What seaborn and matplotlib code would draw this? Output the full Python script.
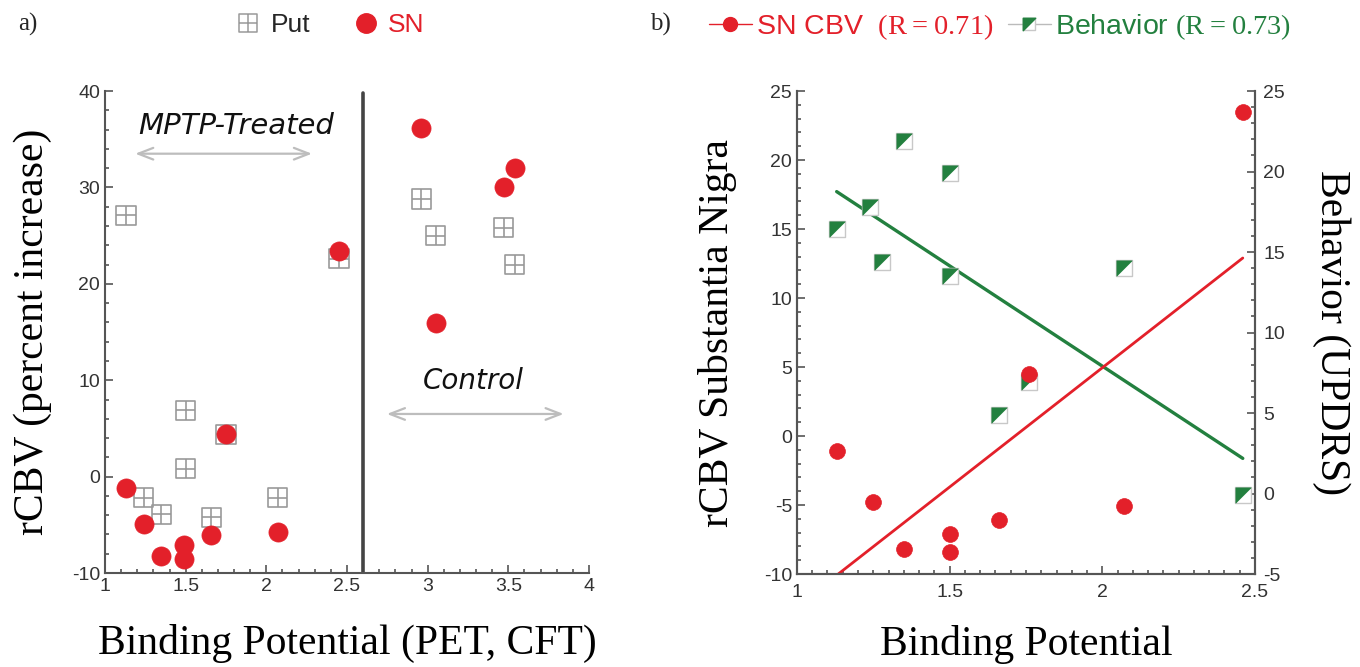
import matplotlib
matplotlib.use("Agg")
import matplotlib.pyplot as plt
from matplotlib.path import Path
from matplotlib.lines import Line2D
from matplotlib.ticker import MultipleLocator
from matplotlib.legend_handler import HandlerTuple
import seaborn as sns

# ---- panel a: rCBV vs binding potential ----
put_bp = [1.13, 2.45, 2.96, 3.05, 3.47, 3.54, 1.50, 1.75, 1.50, 1.24, 1.35, 1.66, 2.07]
put_rcbv = [27.1, 22.6, 28.8, 25.0, 25.8, 22.0, 6.9, 4.4, 0.8, -2.2, -3.9, -4.2, -2.2]
sn_bp = [2.96, 3.54, 3.47, 3.05, 2.45, 1.75, 1.13, 1.24, 1.35, 1.49, 1.49, 1.66, 2.07]
sn_rcbv = [36.2, 32.0, 30.0, 15.9, 23.4, 4.4, -1.2, -4.9, -8.2, -7.1, -8.5, -6.1, -5.7]
group_split = 2.6

# ---- panel b: MPTP animals only ----
snb_bp = [1.13, 1.25, 1.35, 1.50, 1.50, 1.66, 1.76, 2.07, 2.46]
snb_rcbv = [-1.1, -4.8, -8.2, -7.1, -8.4, -6.1, 4.5, -5.1, 23.45]
beh_bp = [1.13, 1.24, 1.28, 1.35, 1.50, 1.50, 1.66, 1.76, 2.07, 2.46]
beh_updrs = [16.4, 17.8, 14.4, 21.9, 19.9, 13.5, 4.9, 6.9, 14.0, -0.1]

RED = "#e3202a"
GREEN = "#23803f"
GRAY = "#9a9a9a"
SERIF = "Liberation Serif"
SANS = "Liberation Sans"

sns.set_theme(style="ticks")
plt.rcParams["font.family"] = [SANS, "DejaVu Sans"]
plt.rcParams["mathtext.fontset"] = "custom"
plt.rcParams["mathtext.rm"] = SERIF
plt.rcParams["axes.unicode_minus"] = False

# custom markers: boxed cross, and a diagonally split square
M, L, C = Path.MOVETO, Path.LINETO, Path.CLOSEPOLY
box_cross = Path([(-1, -1), (1, -1), (1, 1), (-1, 1), (-1, -1), (0, -1), (0, 1), (-1, 0), (1, 0)],
                 [M, L, L, L, C, M, L, M, L])
box = Path([(-1, -1), (1, -1), (1, 1), (-1, 1), (-1, -1)], [M, L, L, L, C])
tri_ul = Path([(-1, 1), (1, 1), (-1, -1), (-1, 1)], [M, L, L, C])

fig = plt.figure(figsize=(13.6, 6.67), dpi=100)
axa = fig.add_axes([0.0772, 0.1409, 0.3559, 0.7226])
axb = fig.add_axes([0.5860, 0.1394, 0.3368, 0.7241])
ax2 = axb.twinx()


def style_axis(ax, sides):
    for s in ["top", "right", "left", "bottom"]:
        ax.spines[s].set_visible(s in sides)
        ax.spines[s].set_color("#555555")
        ax.spines[s].set_linewidth(1.5)
    ax.tick_params(which="both", direction="in", colors="#555555", labelcolor="#333333",
                   labelsize=14, width=1.2)
    ax.tick_params(which="major", length=6)
    ax.tick_params(which="minor", length=3)
    for lab in ax.get_xticklabels() + ax.get_yticklabels():
        lab.set_fontfamily(SANS)


# ---------- panel a ----------
sns.scatterplot(x=put_bp, y=put_rcbv, ax=axa, marker=box_cross, s=190,
                facecolor="none", edgecolor=GRAY, linewidth=1.2, zorder=3)
sns.scatterplot(x=sn_bp, y=sn_rcbv, ax=axa, marker="o", s=190,
                color=RED, edgecolor=RED, linewidth=0.5, zorder=4)
axa.axvline(group_split, ymax=0.995, color="#444444", lw=2.6, zorder=2)
axa.set_xlim(1, 4)
axa.set_ylim(-10, 40)
axa.set_xticks([1, 1.5, 2, 2.5, 3, 3.5, 4])
axa.set_xticklabels(["1", "1.5", "2", "2.5", "3", "3.5", "4"])
axa.set_yticks([-10, 0, 10, 20, 30, 40])
axa.xaxis.set_minor_locator(MultipleLocator(0.1))
axa.yaxis.set_minor_locator(MultipleLocator(2))
style_axis(axa, ["left", "bottom"])

axa.set_xlabel("Binding Potential (PET, CFT)", fontfamily=SERIF, fontsize=30, color="black")
axa.set_ylabel("rCBV (percent increase)", fontfamily=SERIF, fontsize=30, color="black")
axa.xaxis.set_label_coords(0.5, -0.105)
axa.yaxis.set_label_coords(-0.11, 0.5)

arrow = dict(arrowstyle="<->,head_length=0.9,head_width=0.35", color="#bdbdbd", lw=1.6)
axa.annotate("", xy=(1.17, 33.5), xytext=(2.30, 33.5), arrowprops=arrow)
axa.annotate("", xy=(2.73, 6.5), xytext=(3.86, 6.5), arrowprops=arrow)
axa.text(1.81, 36.4, "MPTP-Treated", style="italic", fontsize=21, ha="center", va="center",
         fontfamily="DejaVu Sans", color="#111111")
axa.text(3.285, 9.9, "Control", style="italic", fontsize=20, ha="center", va="center",
         fontfamily="DejaVu Sans", color="#111111")

leg_a = fig.legend(
    handles=[Line2D([], [], ls="none", marker=box_cross, ms=13, mfc="none", mec=GRAY, mew=1.1),
             Line2D([], [], ls="none", marker="o", ms=14, mfc=RED, mec=RED)],
    labels=["Put", "SN"], loc="center", bbox_to_anchor=(330 / 1360, 1 - 25 / 667),
    ncol=2, frameon=False, fontsize=19, handlelength=1.0, handletextpad=0.35,
    columnspacing=1.6)
leg_a.get_texts()[1].set_color(RED)

# ---------- panel b ----------
sns.scatterplot(x=beh_bp, y=beh_updrs, ax=ax2, marker=box, s=120,
                facecolor="white", edgecolor="#c8c8c8", linewidth=1.0, zorder=3)
sns.scatterplot(x=beh_bp, y=beh_updrs, ax=ax2, marker=tri_ul, s=120,
                color=GREEN, edgecolor=GREEN, linewidth=0.5, zorder=4)
sns.regplot(x=beh_bp, y=beh_updrs, ax=ax2, scatter=False, ci=None, truncate=True,
            line_kws=dict(color=GREEN, lw=2.4))
sns.scatterplot(x=snb_bp, y=snb_rcbv, ax=axb, marker="o", s=130,
                color=RED, edgecolor=RED, linewidth=0.5, zorder=4)
sns.regplot(x=snb_bp, y=snb_rcbv, ax=axb, scatter=False, ci=None, truncate=True,
            line_kws=dict(color=RED, lw=2))

axb.set_zorder(ax2.get_zorder() + 1)
axb.patch.set_visible(False)

axb.set_xlim(1, 2.5)
axb.set_ylim(-10, 25)
ax2.set_ylim(-5, 25)
axb.set_xticks([1, 1.5, 2, 2.5])
axb.set_xticklabels(["1", "1.5", "2", "2.5"])
axb.set_yticks([-10, -5, 0, 5, 10, 15, 20, 25])
ax2.set_yticks([-5, 0, 5, 10, 15, 20, 25])
axb.xaxis.set_minor_locator(MultipleLocator(0.05))
axb.yaxis.set_minor_locator(MultipleLocator(1))
ax2.yaxis.set_minor_locator(MultipleLocator(1))
style_axis(axb, ["left", "bottom", "right"])
style_axis(ax2, ["left", "bottom", "right"])
axb.tick_params(axis="x", pad=7)
ax2.tick_params(axis="y", pad=6)

axb.set_xlabel("Binding Potential", fontfamily=SERIF, fontsize=30, color="black")
axb.set_ylabel("rCBV Substantia Nigra", fontfamily=SERIF, fontsize=30, color="black")
axb.xaxis.set_label_coords(0.5, -0.105)
axb.yaxis.set_label_coords(-0.13, 0.5)
ax2.set_ylabel("Behavior (UPDRS)", fontfamily=SERIF, fontsize=30, rotation=270, va="bottom",
               color="black")
ax2.yaxis.set_label_coords(1.125, 0.5)

h_sn = Line2D([], [], color=RED, lw=1, marker="o", ms=10, mfc=RED, mec=RED)
h_beh = (Line2D([], [], color="#bbbbbb", lw=1, marker=box, ms=9, mfc="white", mec="#c8c8c8"),
         Line2D([], [], ls="none", marker=tri_ul, ms=9, mfc=GREEN, mec=GREEN))
leg_b = fig.legend(
    handles=[h_sn, h_beh],
    labels=[r"SN CBV  $\mathrm{(R = 0.71)}$", r"Behavior $\mathrm{(R = 0.73)}$"],
    handler_map={tuple: HandlerTuple(ndivide=1)},
    loc="center", bbox_to_anchor=(1000 / 1360, 1 - 27 / 667), ncol=2, frameon=False,
    fontsize=20.5, handlelength=1.5, handletextpad=0.15, columnspacing=0.5)
leg_b.get_texts()[0].set_color(RED)
leg_b.get_texts()[1].set_color(GREEN)

fig.text(28 / 1360, 1 - 24 / 667, "a)", fontfamily=SERIF, fontsize=18, ha="center", va="center")
fig.text(660 / 1360, 1 - 24 / 667, "b)", fontfamily=SERIF, fontsize=18, ha="center", va="center")

fig.savefig("out.png", dpi=100)
